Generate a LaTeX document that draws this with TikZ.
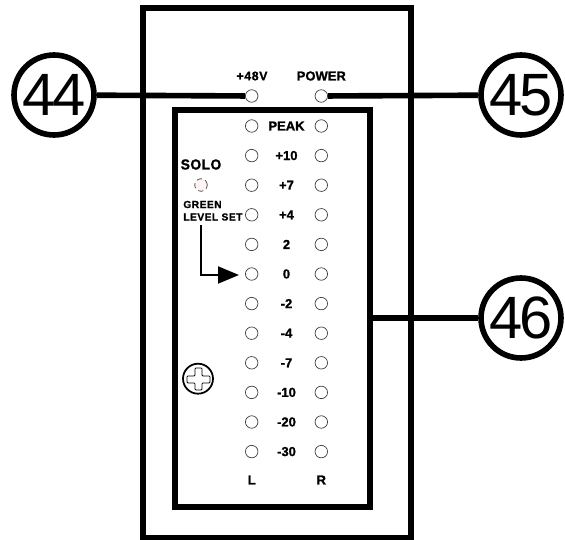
\documentclass[tikz,border=0pt]{standalone}
\usepackage{fontspec}
\setmainfont{Liberation Sans}
\usetikzlibrary{arrows.meta}
\tikzset{
    panel/.style={draw, line width=3.2pt, minimum width=#1},
    led/.style={circle, draw, thin, black!75, minimum size=0.25cm, inner sep=0pt},
    callout/.style={circle, draw, fill=white, line width=3.2pt, minimum size=1.6cm, inner sep=0pt, font=\fontsize{34}{34}\selectfont},
    level/.style={font=\bfseries\fontsize{7.4}{7.4}\selectfont\addfontfeature{FakeBold=1.2}, inner sep=0pt},
    spaced/.style={font=\bfseries\fontsize{5.8}{5.8}\selectfont\addfontfeature{LetterSpace=5,FakeBold=1}, inner sep=0pt},
    lead/.style={line width=3.2pt},
}
\begin{document}
\begin{tikzpicture}[x=0.02cm, y=-0.02cm]
    \useasboundingbox (0,0) rectangle (565,540);
    \node[panel=268*0.02cm, minimum height=530*0.02cm] (housing) at (277,273) {};
    \node[panel=195*0.02cm, minimum height=397*0.02cm] (meter) at (272.5,308.5) {};
    % power row
    \node[led] (ledA) at (251.7,96) {};
    \node[led] (ledB) at (321.3,96) {};
    \node[level, font=\bfseries\fontsize{7}{7}\selectfont\addfontfeature{LetterSpace=5,FakeBold=1}] (phantom) at (252,76) {+48V};
    \node[level] (power) at (321.3,76) {POWER};
    % meter rows
    \foreach \row/\lab [count=\i] in {126/PEAK, 155.6/+10, 185.2/+7, 214.8/+4, 244.4/2, 274/0, 303.6/-2, 333.2/-4, 362.8/-7, 392.4/-10, 422/-20, 451.6/-30} {
        \node[led] (ledL\i) at (251.7,\row) {};
        \node[led] (ledR\i) at (321.3,\row) {};
        \node[level] (lab\i) at (286.5,\row) {\lab};
    }
    \node[level] (left) at (251.7,480) {L};
    \node[level] (right) at (321.3,480) {R};
    % solo
    \node[font=\bfseries\fontsize{8.2}{8.2}\selectfont\addfontfeature{LetterSpace=4,FakeBold=1.5}, inner sep=0pt, xscale=0.95] (solo) at (201,164.5) {SOLO};
    \node[led, densely dashed, fill=pink!15] (sololed) at (201,185) {};
    \node[spaced, anchor=west] (green) at (183,204.5) {GREEN};
    \node[spaced, anchor=west] (levelset) at (183,217) {LEVEL SET};
    \coordinate (start) at (201,225);
    \draw[line width=1.1pt, -{Triangle[length=0.42cm, width=0.34cm]}] (start) |- (239,275);
    % screw
    \node[circle, draw, line width=1pt, minimum size=0.6cm, inner sep=0pt] (screw) at (198,378.7) {};
    \draw[line width=0.5pt, rounded corners=0.5pt] (195,368) -- (202,368) -- (202,376) -- (210,376) -- (210,383) -- (202,383) -- (202,390) -- (195,390) -- (195,383) -- (187,383) -- (187,376) -- (195,376) -- cycle;
    % callouts
    \node[callout] (c44) at (54,95) {\addfontfeature{LetterSpace=-6}44};
    \node[callout] (c45) at (521,95) {\addfontfeature{LetterSpace=-6}45};
    \node[callout] (c46) at (521,318) {\addfontfeature{LetterSpace=-6}46};
    \draw[lead] (c44) -- (ledA);
    \draw[lead] (ledB) -- (c45);
    \draw[lead] (meter.east |- c46) -- (c46);
\end{tikzpicture}
\end{document}
